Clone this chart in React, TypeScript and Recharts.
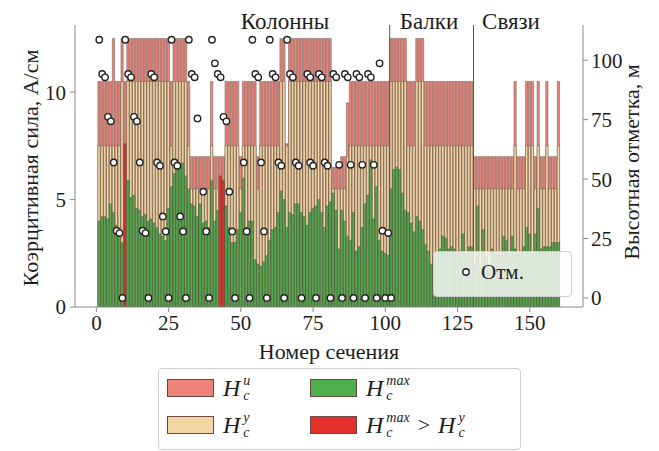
import React from 'react'
import { ComposedChart, Bar, Scatter, XAxis, YAxis, ReferenceLine, Cell } from 'recharts'

const FONT = '"Liberation Serif", Tinos, "Times New Roman", "DejaVu Serif", "Noto Serif", serif'

// section numbers 1..160
const sectionNo = Array.from({ length: 160 }, (_, i) => i + 1)

// H_c^u, A/cm
const hU = [
  10.5, 10.5, 10.5, 10.5, 10.5, 12.5, 10.5, 10.5, 12.5, 10.5,
  12.5, 12.5, 12.5, 12.5, 12.5, 12.5, 12.5, 12.5, 12.5, 12.5,
  12.5, 12.5, 12.5, 12.5, 12.5, 10.5, 12.5, 12.5, 12.5, 12.5,
  12.5, 10.5, 7, 7, 7, 7, 7, 7, 7, 10.5,
  7, 7, 7, 7, 10.5, 10.5, 10.5, 10.5, 10.5, 7,
  10.5, 10.5, 10.5, 10.5, 10.5, 7, 10.5, 10.5, 10.5, 10.5,
  10.5, 10.5, 10.5, 12.5, 12.5, 7.6, 12.5, 12.5, 12.5, 12.5,
  12.5, 12.5, 12.5, 12.5, 12.5, 12.5, 12.5, 12.5, 12.5, 12.5,
  12.5, 6.5, 6.5, 6.5, 7, 7, 9.5, 10.5, 10.5, 10.5,
  10.5, 10.5, 10.5, 10.5, 10.5, 10.5, 10.5, 10.5, 10.5, 10.5,
  10.5, 12.5, 12.5, 12.5, 12.5, 12.5, 12.5, 10.5, 10.5, 10.5,
  12.5, 12.5, 12.5, 10.5, 10.5, 10.5, 10.5, 10.5, 10.5, 10.5,
  10.5, 10.5, 10.5, 10.5, 10.5, 10.5, 10.5, 10.5, 10.5, 10.5,
  7, 7, 7, 7, 7, 7, 7, 7, 7, 7,
  7, 7, 7, 7, 10.5, 7, 7, 7, 10.5, 10.5,
  10.5, 7, 10.5, 7, 7, 10.5, 7, 7, 7, 10.5,
]

// H_c^y, A/cm
const hY = [
  7.5, 7.5, 7.5, 7.5, 7.5, 7.5, 7.5, 7.5, 10.5, 7.5,
  10.5, 10.5, 10.5, 10.5, 10.5, 10.5, 10.5, 10.5, 10.5, 10.5,
  10.5, 10.5, 10.5, 10.5, 10.5, 7.5, 10.5, 10.5, 10.5, 10.5,
  10.5, 7.5, 5.5, 5.5, 5.5, 5.5, 5.5, 5.5, 5.5, 7.5,
  5.5, 5.5, 5.5, 5.5, 7.5, 7.5, 7.5, 7.5, 7.5, 5.5,
  7.5, 7.5, 7.5, 7.5, 7.5, 5.5, 7.5, 7.5, 7.5, 7.5,
  7.5, 7.5, 7.5, 10.5, 10.5, 7.5, 10.5, 10.5, 10.5, 10.5,
  10.5, 10.5, 10.5, 10.5, 10.5, 10.5, 10.5, 10.5, 10.5, 10.5,
  10.5, 5.5, 5.5, 5.5, 5.5, 5.5, 7, 7.5, 7.5, 7.5,
  7.5, 7.5, 7.5, 7.5, 7.5, 7.5, 7.5, 7.5, 7.5, 7.5,
  7.5, 10.5, 10.5, 10.5, 10.5, 10.5, 10.5, 7.5, 7.5, 7.5,
  10.5, 10.5, 10.5, 7.5, 7.5, 7.5, 7.5, 7.5, 7.5, 7.5,
  7.5, 7.5, 7.5, 7.5, 7.5, 7.5, 7.5, 7.5, 7.5, 7.5,
  5.5, 5.5, 5.5, 5.5, 5.5, 5.5, 5.5, 5.5, 5.5, 5.5,
  5.5, 5.5, 5.5, 5.5, 7.5, 5.5, 5.5, 5.5, 7.5, 7.5,
  7.5, 5.5, 7.5, 5.5, 5.5, 7.5, 5.5, 5.5, 5.5, 7.5,
]

// H_c^max, A/cm
const hMax = [
  4.0, 4.2, 4.2, 4.1, 4.8, 4.4, 3.8, 3.6, 3.0, 7.6,
  5.9, 5.1, 5.2, 4.6, 4.5, 4.2, 4.3, 4.0, 4.1, 3.9,
  3.7, 3.4, 3.3, 3.1, 4.6, 5.6, 6.2, 6.4, 6.5, 6.7,
  6.1, 5.5, 4.8, 4.7, 4.2, 4.8, 3.9, 4.0, 3.7, 5.9,
  4.0, 4.5, 6.1, 5.9, 4.7, 3.7, 3.0, 3.0, 3.6, 4.4,
  6.0, 3.7, 4.0, 4.0, 2.2, 2.0, 1.9, 2.1, 2.4, 3.1,
  3.6, 3.7, 4.4, 5.4, 5.0, 3.7, 4.4, 4.3, 4.8, 4.8,
  4.4, 4.2, 3.8, 4.4, 4.6, 4.7, 5.0, 4.4, 3.7, 4.7,
  4.9, 5.3, 4.5, 2.7, 4.5, 4.0, 3.3, 3.1, 4.4, 2.6,
  2.8, 3.7, 4.8, 5.2, 6.85, 4.1, 5.6, 3.1, 2.6, 2.5,
  2.4, 5.5, 6.4, 6.5, 6.4, 5.3, 4.5, 4.4, 3.9, 3.5,
  4.2, 4.0, 3.6, 2.9, 2.6, 2.0, 2.3, 2.5, 2.7, 3.3,
  3.2, 2.7, 2.8, 2.7, 2.5, 2.6, 3.4, 2.5, 2.8, 2.8,
  2.0, 4.7, 1.9, 3.6, 2.3, 2.0, 2.7, 2.5, 2.5, 2.4,
  3.3, 3.1, 2.5, 3.3, 2.7, 2.5, 2.6, 2.8, 3.7, 3.4,
  2.5, 3.4, 4.6, 2.7, 2.8, 2.8, 2.8, 3.0, 3.0, 3.0,
]

// elevation marks (section, m)
const elevSection = [
  1, 2, 3, 4, 5, 6, 7, 8, 9,
  10, 11, 12, 13, 14, 15, 16, 17, 18,
  19, 20, 21, 22, 23, 24, 25,
  26, 27, 28, 29, 30, 31,
  32, 33, 34, 35, 37, 38, 39,
  40, 41, 42, 43, 44, 45, 46, 47, 48,
  51, 52, 53,
  54, 55, 56, 57, 58, 59,
  60, 61, 62, 63, 64, 65,
  66, 67, 68, 69, 70, 71,
  73, 74, 74, 75, 76,
  77, 78, 79, 80, 81,
  82, 83, 84, 85,
  86, 87, 88, 89,
  90, 91, 92, 93,
  94, 95, 96, 97,
  98, 99, 100, 101, 102,
]
const elevValue = [
  108.6, 94.2, 92.8, 76.2, 74.3, 57, 28.3, 27.3, 0,
  108.6, 94.2, 92.8, 76.2, 74.3, 57, 28.3, 27.3, 0,
  94.2, 92.8, 57, 55.6, 34.3, 28, 0,
  108.6, 57, 55.6, 34.3, 28, 0,
  108.6, 94.2, 92.8, 75.5, 44.7, 28, 0,
  108.6, 98.7, 94.2, 92.8, 76.2, 74.3, 44.7, 28, 0,
  57, 28, 0,
  108.6, 94.2, 92.8, 57, 28, 0,
  108.6, 94.2, 92.8, 57, 55.6, 0,
  108.6, 94.2, 92.8, 57, 55.6, 0,
  94.2, 92.8, 57, 55.6, 0,
  94.2, 92.8, 57, 55.6, 0,
  94.2, 92.8, 56, 0,
  94.2, 92.8, 56, 0,
  94.2, 92.8, 56, 0,
  94.2, 92.8, 56, 0,
  98.7, 28.3, 0, 27.3, 0,
]

const xTicks = [0, 25, 50, 75, 100, 125, 150]
const leftTicks = [0, 5, 10]
const rightTicks = [0, 25, 50, 75, 100]
const groupBounds = [101.5, 130.5]
const groupNames = ['Колонны', 'Балки', 'Связи']

const COL = {
  u: '#ee8479',
  y: '#f3d6a4',
  max: '#4fae4c',
  over: '#e3302a',
  edge: '#4a3f38',
  axis: '#8a8a8a',
  text: '#1e1e1e',
}

const X_DOMAIN: [number, number] = [-7.4, 168.4]

const rows = sectionNo.map((k, i) => ({ k, hu: hU[i], hy: hY[i], hm: hMax[i] }))
const points = elevSection.map((k, i) => ({ k, elev: elevValue[i] }))

const tickStyle = { fill: COL.text, fontSize: 21, fontFamily: FONT }

// italic H with stacked superscript / subscript "c"
function H({ sup, size = 24 }: { sup: string; size?: number }) {
  const small = Math.round(size * 0.58)
  return (
    <span style={{ display: 'inline-flex', alignItems: 'center', fontStyle: 'italic' }}>
      <span style={{ fontSize: size, lineHeight: 1 }}>H</span>
      <span style={{ display: 'inline-flex', flexDirection: 'column', marginLeft: 3, fontSize: small }}>
        <span style={{ lineHeight: 1.1 }}>{sup}</span>
        <span style={{ lineHeight: 1.1 }}>c</span>
      </span>
    </span>
  )
}

function Patch({ color, left, top }: { color: string; left: number; top: number }) {
  return (
    <div style={{
      position: 'absolute', left, top, width: 47, height: 18,
      background: color, border: '1px solid #6a4a40', boxSizing: 'border-box',
    }} />
  )
}

const abs = (left: number, top: number, extra: React.CSSProperties = {}): React.CSSProperties => ({
  position: 'absolute', left, top, fontFamily: FONT, color: COL.text, whiteSpace: 'nowrap', lineHeight: 1, ...extra,
})

export default function App() {
  return (
    <div style={{ position: 'relative', width: 659, height: 451, background: '#fff', overflow: 'hidden', fontFamily: FONT }}>
      <style>{'body{margin:0}'}</style>
      <ComposedChart width={659} height={451} data={rows} margin={{ top: 25, right: 16, bottom: 114, left: 15 }}>
        <XAxis
          xAxisId="main" dataKey="k" type="number" domain={X_DOMAIN} allowDataOverflow
          ticks={xTicks} height={30} tick={tickStyle} tickSize={5} tickMargin={3}
          axisLine={{ stroke: COL.axis }} tickLine={{ stroke: COL.axis }}
        />
        <XAxis xAxisId="u" dataKey="k" type="number" domain={X_DOMAIN} allowDataOverflow height={0} hide />
        <XAxis xAxisId="y" dataKey="k" type="number" domain={X_DOMAIN} allowDataOverflow height={0} hide />
        <XAxis xAxisId="m" dataKey="k" type="number" domain={X_DOMAIN} allowDataOverflow height={0} hide />
        <YAxis
          yAxisId="left" type="number" domain={[0, 13.125]} allowDataOverflow ticks={leftTicks}
          width={60} tick={tickStyle} tickSize={5} tickMargin={4}
          axisLine={{ stroke: COL.axis }} tickLine={{ stroke: COL.axis }}
        />
        <YAxis
          yAxisId="right" orientation="right" dataKey="elev" type="number" domain={[-3.8, 114.8]}
          allowDataOverflow ticks={rightTicks} width={60} tick={tickStyle} tickSize={5} tickMargin={3}
          axisLine={{ stroke: COL.axis }} tickLine={{ stroke: COL.axis }}
        />
        <Bar xAxisId="u" yAxisId="left" dataKey="hu" fill={COL.u} stroke={COL.edge} strokeWidth={0.5}
             strokeOpacity={0.8} barSize={2.3} isAnimationActive={false} />
        <Bar xAxisId="y" yAxisId="left" dataKey="hy" fill={COL.y} stroke={COL.edge} strokeWidth={0.5}
             strokeOpacity={0.8} barSize={2.3} isAnimationActive={false} />
        <Bar xAxisId="m" yAxisId="left" dataKey="hm" stroke={COL.edge} strokeWidth={0.5}
             strokeOpacity={0.8} barSize={2.3} isAnimationActive={false}>
          {rows.map((r, i) => <Cell key={i} fill={r.hm > r.hy ? COL.over : COL.max} />)}
        </Bar>
        {groupBounds.map(x => (
          <ReferenceLine key={x} xAxisId="main" yAxisId="left" x={x} stroke="#555" strokeWidth={1} />
        ))}
        <Scatter
          xAxisId="main" yAxisId="right" data={points} dataKey="elev" isAnimationActive={false}
          shape={(p: any) => <circle cx={p.cx} cy={p.cy} r={3.2} fill="#fff" stroke="#222" strokeWidth={1.4} />}
        />
      </ComposedChart>

      {/* section group names */}
      <div style={abs(285, 10, { fontSize: 23, transform: 'translateX(-50%)' })}>{groupNames[0]}</div>
      <div style={abs(429, 10, { fontSize: 23, transform: 'translateX(-50%)' })}>{groupNames[1]}</div>
      <div style={abs(511, 10, { fontSize: 23, transform: 'translateX(-50%)' })}>{groupNames[2]}</div>

      {/* axis titles */}
      <div style={abs(329, 341, { fontSize: 22, transform: 'translateX(-50%)' })}>Номер сечения</div>
      <div style={abs(31, 168, { fontSize: 22, transform: 'translate(-50%, -50%) rotate(-90deg)' })}>
        Коэрцитивная сила, А/см
      </div>
      <div style={abs(632, 162, { fontSize: 22, transform: 'translate(-50%, -50%) rotate(-90deg)' })}>
        Высотная отметка, м
      </div>

      {/* in-plot legend */}
      <div style={{
        position: 'absolute', left: 433, top: 251, width: 139, height: 46, boxSizing: 'border-box',
        background: 'rgba(255,255,255,0.8)', border: '1px solid #cfcfcf', borderRadius: 4,
      }} />
      <svg style={{ position: 'absolute', left: 459, top: 265 }} width={14} height={14}>
        <circle cx={7} cy={7} r={3.2} fill="#fff" stroke="#222" strokeWidth={1.4} />
      </svg>
      <div style={abs(481, 262, { fontSize: 21 })}>Отм.</div>

      {/* bottom legend */}
      <div style={{
        position: 'absolute', left: 158, top: 368, width: 363, height: 82, boxSizing: 'border-box',
        background: '#fff', border: '1px solid #cfcfcf', borderRadius: 4,
      }} />
      <Patch color={COL.u} left={167} top={379} />
      <Patch color={COL.y} left={167} top={416} />
      <Patch color={COL.max} left={310} top={379} />
      <Patch color={COL.over} left={310} top={416} />
      <div style={abs(223, 373)}><H sup="u" /></div>
      <div style={abs(223, 410)}><H sup="y" /></div>
      <div style={abs(366, 373)}><H sup="max" /></div>
      <div style={{ ...abs(366, 410), display: 'flex', alignItems: 'center' }}>
        <H sup="max" />
        <span style={{ fontSize: 22, margin: '0 8px' }}>&gt;</span>
        <H sup="y" />
      </div>
    </div>
  )
}
